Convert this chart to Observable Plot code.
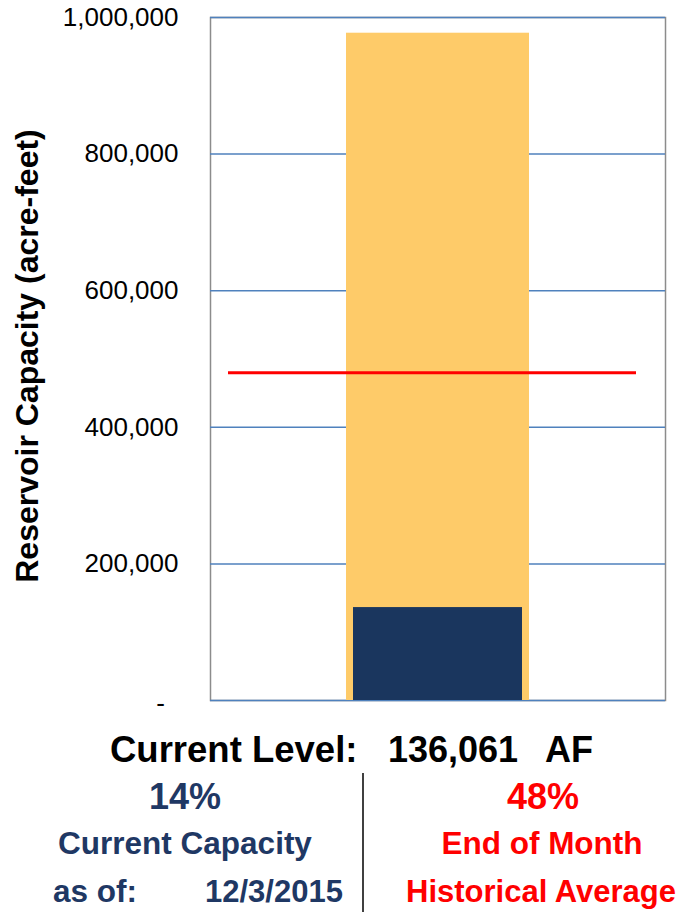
<!DOCTYPE html>
<html>
<head>
<meta charset="utf-8">
<script src="https://cdn.jsdelivr.net/npm/d3@7"></script>
<script src="https://cdn.jsdelivr.net/npm/@observablehq/plot@0.6"></script>
<style>
  body { margin: 0; background: #fff; }
  #chart { width: 683px; height: 912px; overflow: hidden; font-family: "Liberation Sans", Arial, sans-serif; }
  #chart svg { display: block; }
</style>
</head>
<body>
<div id="chart"></div>
<script>
// Reservoir storage figures (acre-feet)
const reservoir = ["Reservoir"];
const capacityAF = [977000];
const currentAF = [136061];
const historicalAvgAF = [480000];
const historicalAvgPct = ["48%"];
const asOfDate = ["12/3/2015"];

// Y axis ticks and their labels
const yTicks = [0, 200000, 400000, 600000, 800000, 1000000];
const yTickLabels = ["-", "200,000", "400,000", "600,000", "800,000", "1,000,000"];

const FONT = '"Liberation Sans", Arial, sans-serif';
const NAVY_TEXT = "#1f3864";
const NAVY_BAR = "#1a365e";
const GOLD = "#fecb69";
const RED = "#ff0000";
const GRID = "#4f81bd";

const capacityRows = reservoir.map((r, i) => ({r, v: capacityAF[i]}));
const currentRows = reservoir.map((r, i) => ({r, v: currentAF[i]}));

const plot = Plot.plot({
  width: 683,
  height: 720,
  marginLeft: 210,
  marginRight: 18,
  marginTop: 17,
  marginBottom: 20,
  style: {fontFamily: FONT, background: "white", color: "black"},
  x: {domain: reservoir, padding: 0, axis: null},
  y: {domain: [0, 1000000], axis: null},
  marks: [
    Plot.frame({stroke: "#8c8c8c", strokeWidth: 1.5}),
    Plot.gridY(yTicks, {stroke: GRID, strokeOpacity: 1, strokeWidth: 1.5}),
    Plot.barY(capacityRows, {x: "r", y: "v", fill: GOLD, insetLeft: 136, insetRight: 136}),
    Plot.barY(currentRows, {x: "r", y: "v", fill: NAVY_BAR, insetLeft: 143, insetRight: 143}),
    Plot.ruleY(historicalAvgAF, {stroke: RED, strokeWidth: 3, insetLeft: 18, insetRight: 29}),
    Plot.axisY(yTicks.filter(d => d !== 0), {
      tickSize: 0,
      tickPadding: 32,
      tickFormat: d => yTickLabels[yTicks.indexOf(d)],
      fontSize: 26,
      fill: "black",
      label: null
    }),
    // zero tick shown as a dash, set further left
    Plot.text([0], {
      y: d => d,
      frameAnchor: "left",
      textAnchor: "middle",
      dx: -50,
      dy: 3,
      text: d => yTickLabels[yTicks.indexOf(d)],
      fontSize: 26,
      fill: "black"
    }),
    Plot.text(["Reservoir Capacity (acre-feet)"], {
      frameAnchor: "left",
      textAnchor: "middle",
      rotate: -90,
      dx: -183,
      dy: -3,
      text: d => d,
      fontSize: 32,
      fontWeight: "bold",
      fill: "black"
    })
  ]
});

const chart = document.getElementById("chart");
chart.appendChild(plot);

// Summary panel below the chart
const fmt = d3.format(",");
const pct = Math.round(currentAF[0] / capacityAF[0] * 100) + "%";

const panel = d3.create("svg")
  .attr("width", 683)
  .attr("height", 192)
  .style("font-family", FONT)
  .style("font-weight", "bold");

const add = (x, y, str, size, color, anchor) =>
  panel.append("text")
    .attr("x", x).attr("y", y)
    .attr("text-anchor", anchor)
    .attr("font-size", size)
    .attr("fill", color)
    .text(str);

add(110, 42, "Current Level:", 36.5, "black", "start");
add(388, 42, fmt(currentAF[0]), 36, "black", "start");
add(545, 42, "AF", 36, "black", "start");

add(185, 89, pct, 36, NAVY_TEXT, "middle");
add(185, 134, "Current Capacity", 31.5, NAVY_TEXT, "middle");
add(53, 182, "as of:", 31.5, NAVY_TEXT, "start");
add(205, 182, asOfDate[0], 31, NAVY_TEXT, "start");

add(543, 89, historicalAvgPct[0], 36, RED, "middle");
add(542, 134, "End of Month", 31.5, RED, "middle");
add(541, 182, "Historical Average", 31, RED, "middle");

panel.append("line")
  .attr("x1", 363).attr("x2", 363)
  .attr("y1", 53).attr("y2", 192)
  .attr("stroke", "black")
  .attr("stroke-width", 1.5);

chart.appendChild(panel.node());
</script>
</body>
</html>
